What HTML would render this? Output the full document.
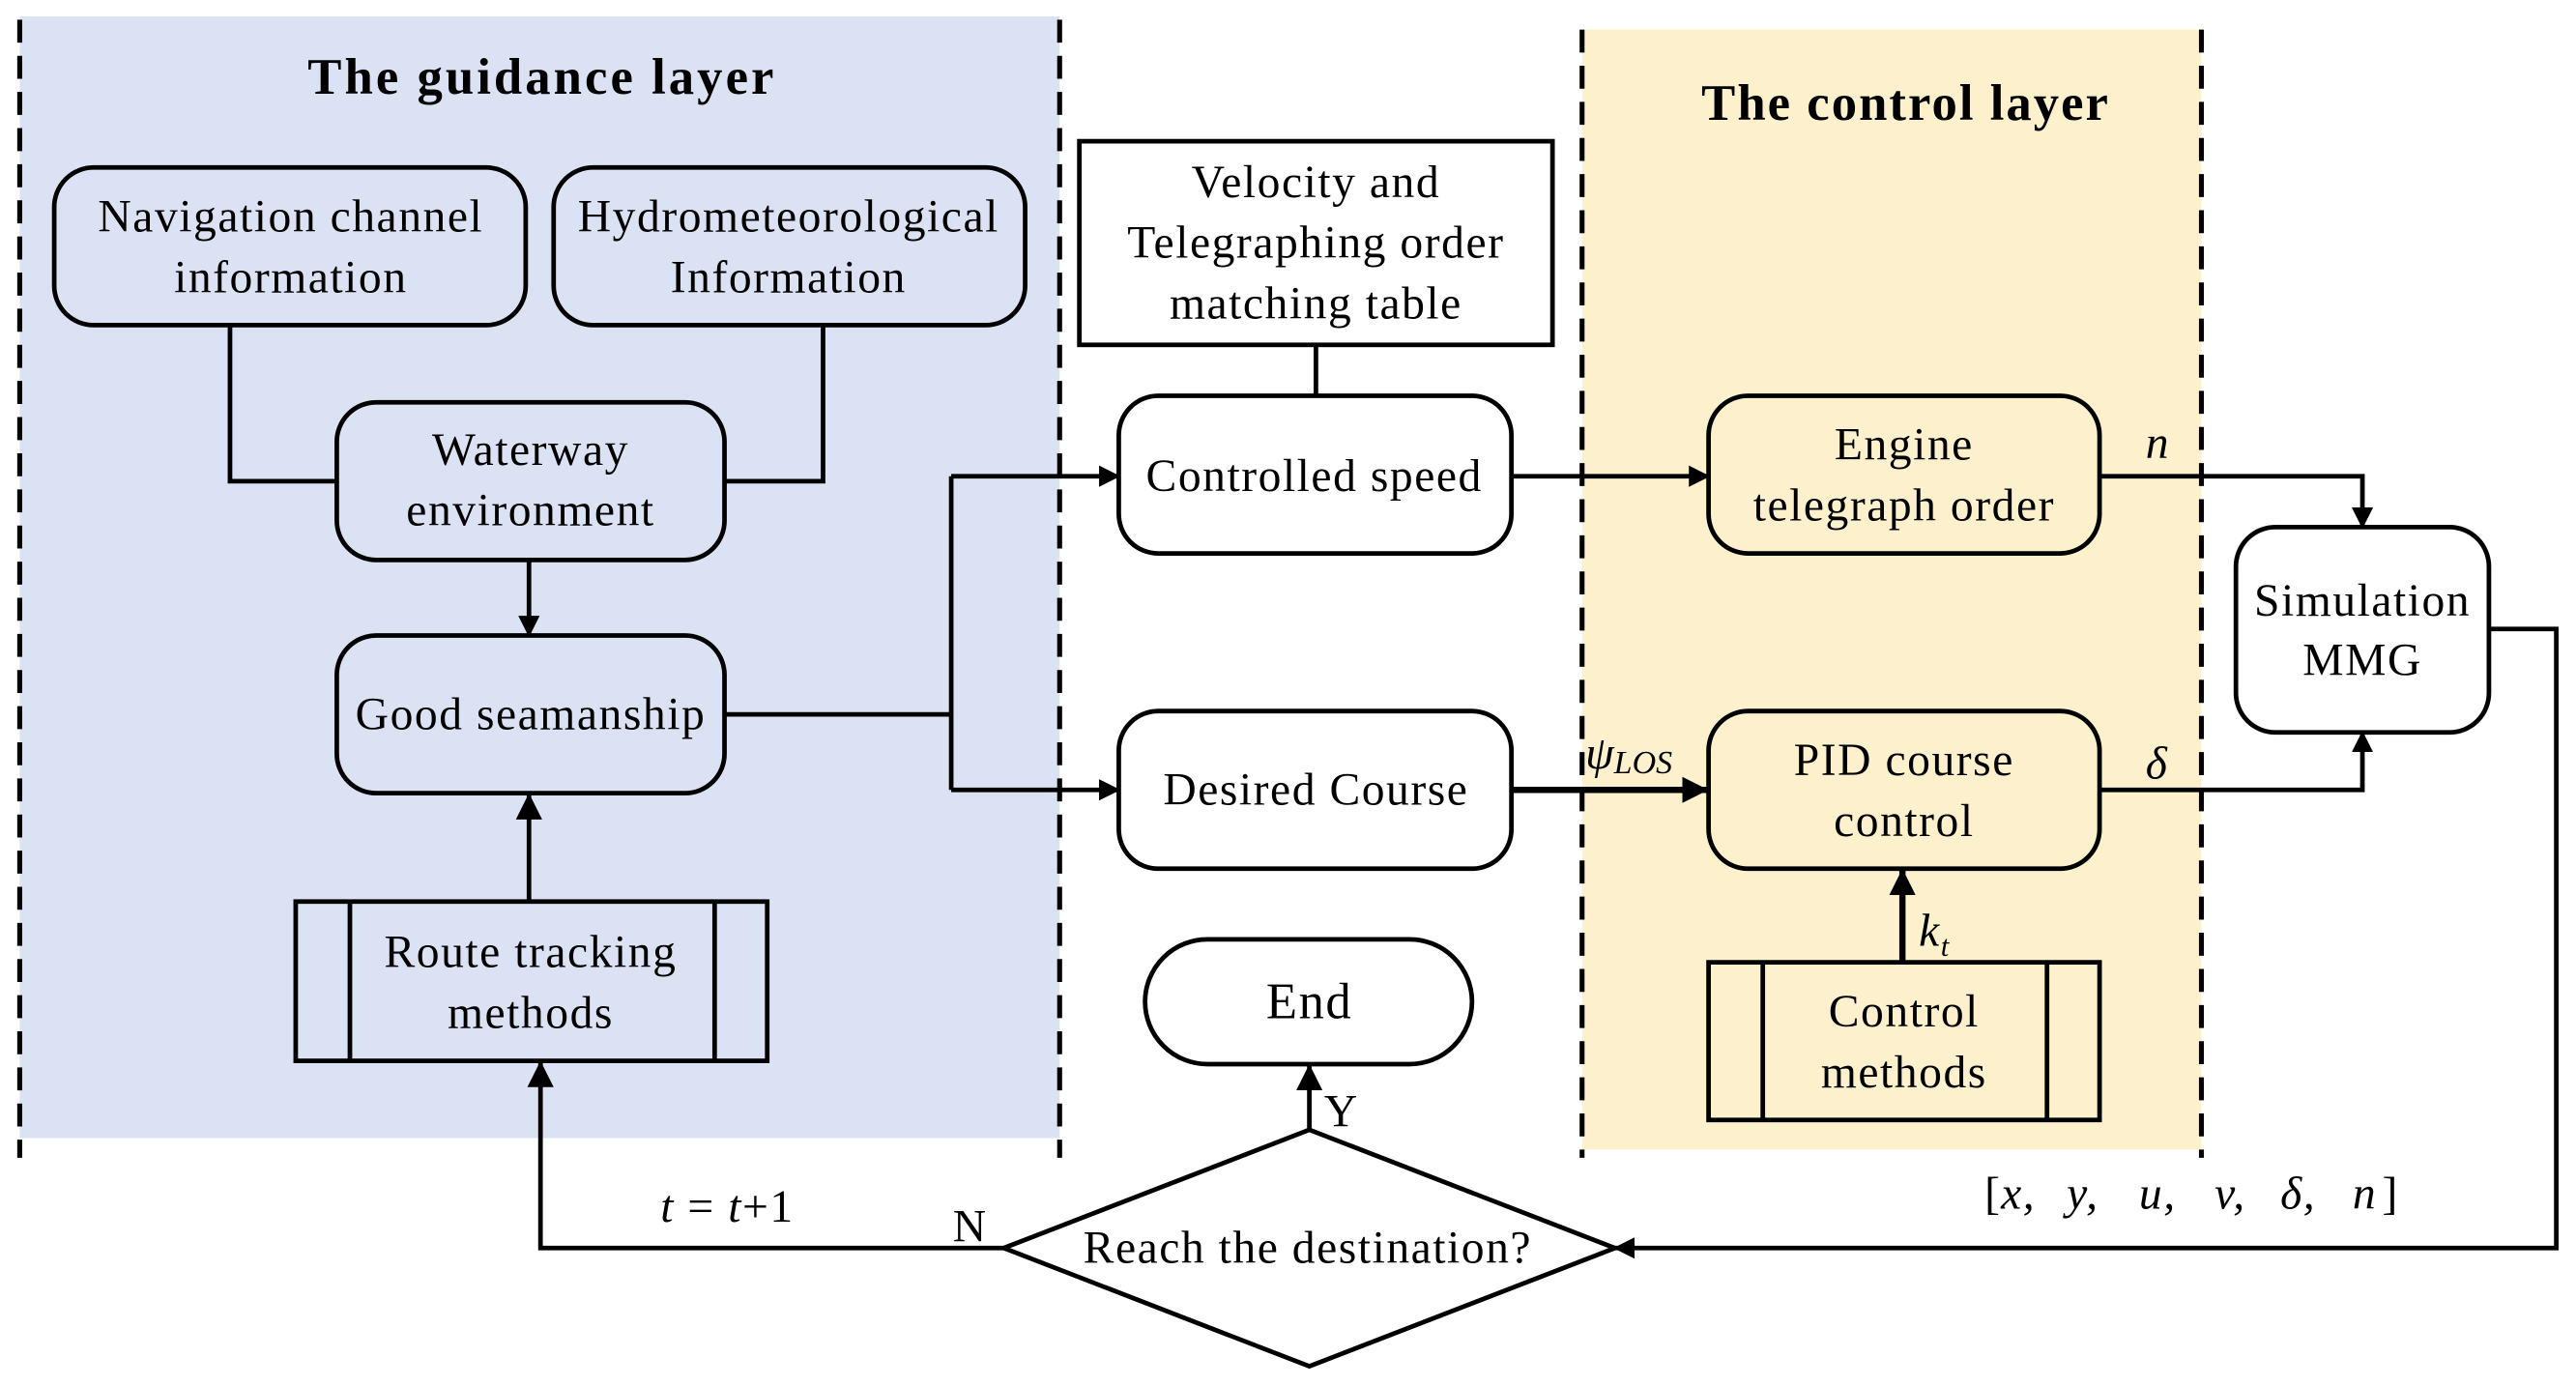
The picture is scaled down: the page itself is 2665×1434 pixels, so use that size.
<!DOCTYPE html>
<html><head><meta charset="utf-8"><style>
html,body{margin:0;padding:0;background:#fff;}
svg{display:block;}
text{font-family:"Liberation Serif",serif;font-size:28px;letter-spacing:0.9px;fill:#000;}
</style></head><body>
<svg width="2665" height="1434" viewBox="0 0 1568 844" preserveAspectRatio="none" xmlns="http://www.w3.org/2000/svg">
<defs>
<marker id="a" markerWidth="13" markerHeight="13" refX="12" refY="6.5" orient="auto" markerUnits="userSpaceOnUse">
<path d="M0,0 L13,6.5 L0,13 z" fill="#000"/>
</marker>
<marker id="b" markerWidth="16" markerHeight="16" refX="16" refY="8" orient="auto" markerUnits="userSpaceOnUse">
<path d="M0,0 L16,8 L0,16 z" fill="#000"/>
</marker>
</defs>
<rect x="12" y="10" width="633" height="683" fill="#dbe2f3"/>
<rect x="963" y="18" width="377" height="682" fill="#fdf0cc"/>
<g stroke="#000" stroke-width="3" stroke-dasharray="14,8">
<line x1="12" y1="12" x2="12" y2="705"/>
<line x1="645" y1="12" x2="645" y2="705"/>
<line x1="963" y1="18" x2="963" y2="705"/>
<line x1="1340" y1="18" x2="1340" y2="705"/>
</g>
<text x="330" y="57" text-anchor="middle" style="font-weight:bold;font-size:31px;letter-spacing:1.8px">The guidance layer</text>
<text x="1160" y="73" text-anchor="middle" style="font-weight:bold;font-size:31px;letter-spacing:1.2px">The control layer</text>
<g fill="none" stroke="#000" stroke-width="2.8">
<rect x="33" y="102" width="287" height="96" rx="24"/>
<rect x="337" y="102" width="287" height="96" rx="24"/>
<rect x="205" y="245" width="236" height="96" rx="24"/>
<rect x="205" y="387" width="236" height="96" rx="24"/>
<rect x="180" y="549" width="287" height="97"/>
<line x1="213" y1="549" x2="213" y2="646"/><line x1="435" y1="549" x2="435" y2="646"/>
<rect x="657" y="86" width="288" height="124"/>
<rect x="681" y="241" width="239" height="96" rx="24"/>
<rect x="681" y="433" width="239" height="96" rx="24"/>
<rect x="1040" y="241" width="238" height="96" rx="24"/>
<rect x="1040" y="433" width="238" height="96" rx="24"/>
<rect x="1361" y="321" width="154" height="125" rx="24"/>
<rect x="1040" y="586" width="238" height="96"/>
<line x1="1073" y1="586" x2="1073" y2="682"/><line x1="1246" y1="586" x2="1246" y2="682"/>
<rect x="697" y="572" width="199" height="76" rx="38"/>
<path d="M611,760 L797,688 L983,760 L797,832 Z"/>
<polyline points="140,198 140,293 205,293"/>
<polyline points="501,198 501,293 441,293"/>
<line x1="322" y1="341" x2="322" y2="387" marker-end="url(#a)"/>
<line x1="322" y1="549" x2="322" y2="483" marker-end="url(#b)"/>
<line x1="441" y1="435" x2="579" y2="435"/>
<line x1="579" y1="290" x2="579" y2="481"/>
<line x1="579" y1="290" x2="681" y2="290" marker-end="url(#a)"/>
<line x1="579" y1="481" x2="681" y2="481" marker-end="url(#a)"/>
<line x1="801" y1="210" x2="801" y2="241"/>
<line x1="920" y1="290" x2="1040" y2="290" marker-end="url(#a)"/>
<line x1="920" y1="481" x2="1040" y2="481" stroke-width="3.8" marker-end="url(#b)"/>
<polyline points="1278,290 1438,290 1438,321" marker-end="url(#a)"/>
<polyline points="1278,481 1438,481 1438,446" marker-end="url(#a)"/>
<polyline points="1515,383 1556,383 1556,760 983,760" marker-end="url(#a)"/>
<line x1="1158" y1="586" x2="1158" y2="529" stroke-width="3.8" marker-end="url(#b)"/>
<line x1="797" y1="688" x2="797" y2="648" marker-end="url(#b)"/>
<polyline points="611,760 329,760 329,646" marker-end="url(#b)"/>
</g>
<g text-anchor="middle">
<text x="177" y="141">Navigation channel</text><text x="177" y="178">information</text>
<text x="480" y="141">Hydrometeorological</text><text x="480" y="178">Information</text>
<text x="323" y="283">Waterway</text><text x="323" y="320">environment</text>
<text x="323" y="444">Good seamanship</text>
<text x="323" y="589">Route tracking</text><text x="323" y="626">methods</text>
<text x="801" y="120">Velocity and</text><text x="801" y="157">Telegraphing order</text><text x="801" y="194">matching table</text>
<text x="800" y="299">Controlled speed</text>
<text x="801" y="490">Desired Course</text>
<text x="1159" y="280">Engine</text><text x="1159" y="317">telegraph order</text>
<text x="1159" y="472">PID course</text><text x="1159" y="509">control</text>
<text x="1438" y="375">Simulation</text><text x="1438" y="411">MMG</text>
<text x="1159" y="625">Control</text><text x="1159" y="662">methods</text>
<text x="797" y="620" style="font-size:31px">End</text>
<text x="796" y="769">Reach the destination?</text>
</g>
<text x="1306" y="279" style="font-style:italic">n</text>
<text x="1306" y="474" style="font-style:italic">δ</text>
<text x="965" y="468" style="font-style:italic;letter-spacing:0">ψ<tspan style="font-size:20px" dy="3">LOS</tspan></text>
<text x="1168" y="576" style="font-style:italic">k<tspan style="font-size:18px" dy="6">t</tspan></text>
<text x="806" y="686">Y</text>
<text x="580" y="756">N</text>
<text x="402" y="744"><tspan style="font-style:italic">t</tspan> = <tspan style="font-style:italic">t</tspan>+1</text>
<g style="font-style:italic">
<text x="1208" y="736" style="font-style:normal">[</text>
<text x="1218" y="736">x,</text>
<text x="1258" y="736">y,</text>
<text x="1302" y="736">u,</text>
<text x="1348" y="736">v,</text>
<text x="1388" y="736">δ,</text>
<text x="1432" y="736">n</text>
<text x="1450" y="736" style="font-style:normal">]</text>
</g>
</svg>
</body></html>
